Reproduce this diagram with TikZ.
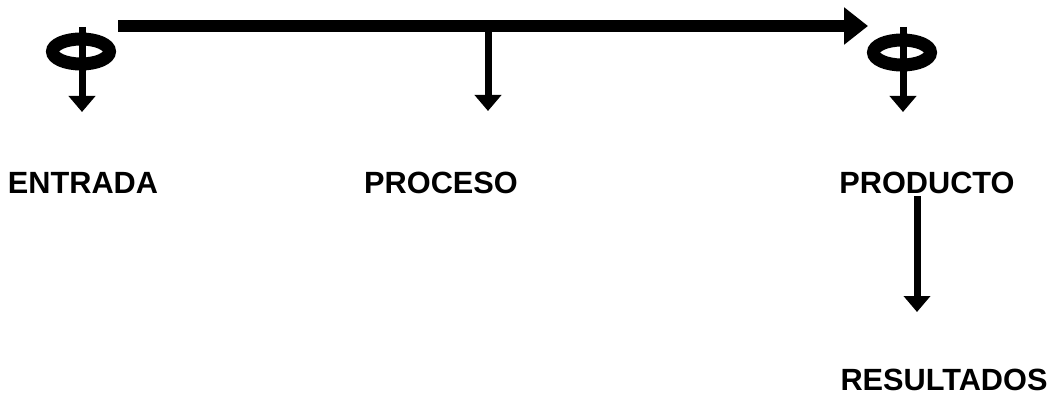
\documentclass[tikz,border=0pt]{standalone}
\usepackage{fontspec}
\setmainfont{Liberation Sans}
\usetikzlibrary{arrows.meta,shapes.geometric}
\begin{document}
\begin{tikzpicture}[x=1pt,y=-1pt,
  lbl/.style={font=\fontsize{30.7}{36}\selectfont\bfseries, inner sep=0pt, anchor=center},
  phi/.style={line width=13pt},
  thin/.style={line width=7pt, -{Triangle[width=26pt,length=16pt]}},
  thick/.style={line width=12pt, -{Triangle[width=36pt,length=24pt]}}]
\useasboundingbox (0,0) rectangle (1056,401);
% symbols
\coordinate (p1) at (81,51.5);
\coordinate (p2) at (902,52.5);
\draw[phi] (p1) ellipse [x radius=28.5pt, y radius=12.5pt];
\draw[phi] (p2) ellipse [x radius=28.5pt, y radius=12.5pt];
% coordinates
\coordinate (s1) at (82,27);
\coordinate (t1) at (82,112);
\coordinate (s2) at (903,27);
\coordinate (t2) at (903,112);
\coordinate (hs) at (118,26);
\coordinate (he) at (868,26);
\coordinate (ms) at (488,26);
\coordinate (mt) at (488,111);
% labels
\node[lbl] (entrada) at (83,183) {ENTRADA};
\node[lbl] (proceso) at (441,183) {PROCESO};
\node[lbl] (producto) at (927,183) {PRODUCTO};
\node[lbl] (resultados) at (944,380) {RESULTADOS};
\coordinate (rs) at (917,196);
\coordinate (rt) at (917,312);
% arrows
\draw[thin] (s1) -- (t1);
\draw[thin] (s2) -- (t2);
\draw[thick] (hs) -- (he);
\draw[thin] (ms) -- (mt);
\draw[thin] (rs) -- (rt);
\end{tikzpicture}
\end{document}
